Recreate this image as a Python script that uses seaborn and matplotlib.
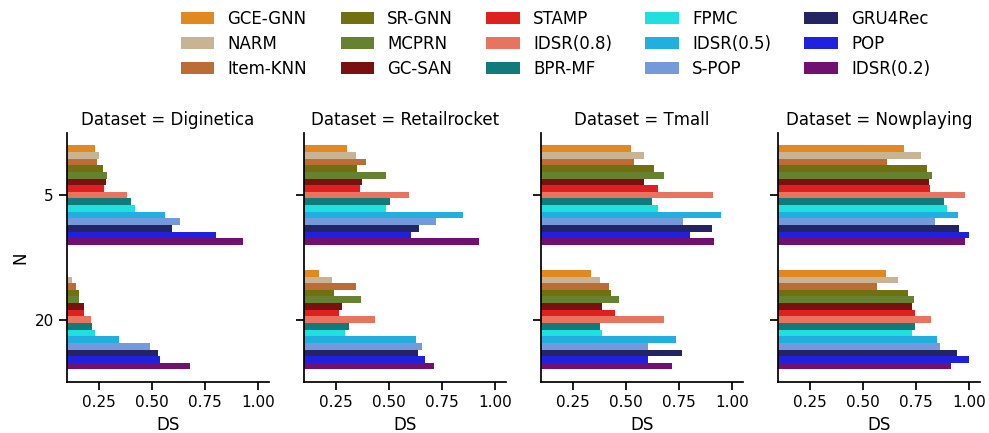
import numpy as np
import pandas as pd
import seaborn as sns
import matplotlib.pyplot as plt

# models in hue order, with their colours
models = ["GCE-GNN", "NARM", "Item-KNN", "SR-GNN", "MCPRN", "GC-SAN", "STAMP",
          "IDSR(0.8)", "BPR-MF", "FPMC", "IDSR(0.5)", "S-POP", "GRU4Rec", "POP", "IDSR(0.2)"]
colors = ["darkorange", "tan", "chocolate", "olive", "olivedrab", "darkred", "red",
          "tomato", "darkcyan", "cyan", "deepskyblue", "cornflowerblue",
          "midnightblue", "blue", "purple"]

datasets = ["Diginetica", "Retailrocket", "Tmall", "Nowplaying"]
n_levels = ["5", "20"]

# DS values (same order as models)
diginetica_5 = [0.231, 0.250, 0.241, 0.269, 0.288, 0.283, 0.274, 0.382, 0.401, 0.419, 0.561, 0.631, 0.594, 0.801, 0.928]
diginetica_20 = [0.090, 0.123, 0.142, 0.156, 0.156, 0.179, 0.179, 0.212, 0.217, 0.231, 0.344, 0.490, 0.528, 0.537, 0.678]
retailrocket_5 = [0.303, 0.346, 0.393, 0.350, 0.487, 0.374, 0.365, 0.595, 0.506, 0.487, 0.849, 0.722, 0.642, 0.605, 0.925]
retailrocket_20 = [0.172, 0.233, 0.346, 0.242, 0.369, 0.280, 0.266, 0.435, 0.313, 0.294, 0.628, 0.656, 0.638, 0.670, 0.713]
tmall_5 = [0.525, 0.582, 0.535, 0.629, 0.676, 0.586, 0.652, 0.907, 0.624, 0.648, 0.945, 0.766, 0.902, 0.799, 0.912]
tmall_20 = [0.336, 0.379, 0.421, 0.431, 0.468, 0.388, 0.450, 0.676, 0.379, 0.388, 0.733, 0.605, 0.761, 0.601, 0.714]
nowplaying_5 = [0.694, 0.774, 0.614, 0.802, 0.826, 0.812, 0.816, 0.981, 0.882, 0.896, 0.948, 0.840, 0.953, 1.000, 0.981]
nowplaying_20 = [0.609, 0.666, 0.567, 0.713, 0.741, 0.732, 0.746, 0.821, 0.746, 0.732, 0.849, 0.863, 0.943, 1.000, 0.915]

values = {
    "Diginetica": (diginetica_5, diginetica_20),
    "Retailrocket": (retailrocket_5, retailrocket_20),
    "Tmall": (tmall_5, tmall_20),
    "Nowplaying": (nowplaying_5, nowplaying_20),
}

rows = []
for ds in datasets:
    for n, vals in zip(n_levels, values[ds]):
        for m, v in zip(models, vals):
            rows.append({"Dataset": ds, "N": n, "Model": m, "DS": v})
df = pd.DataFrame(rows)

# plain matplotlib style, seaborn "notebook" sizes
sns.set_context("notebook")

g = sns.catplot(
    data=df, x="DS", y="N", hue="Model", col="Dataset",
    kind="bar", orient="h", order=n_levels, hue_order=models,
    col_order=datasets, palette=colors, height=3, aspect=0.8
)
g.set(xlim=(0.1, 1.05))
g.set_axis_labels("DS", "N")
g.figure.set_size_inches(9.89, 4.33)
g.figure.subplots_adjust(left=0.0677, right=0.991, bottom=0.118, top=0.693, wspace=0.173)
sns.move_legend(g, "upper center", bbox_to_anchor=(0.5617, 1.012), ncol=5, title=None,
                frameon=False, fontsize=12, labelspacing=0.42)

plt.savefig("out.png", dpi=100)
